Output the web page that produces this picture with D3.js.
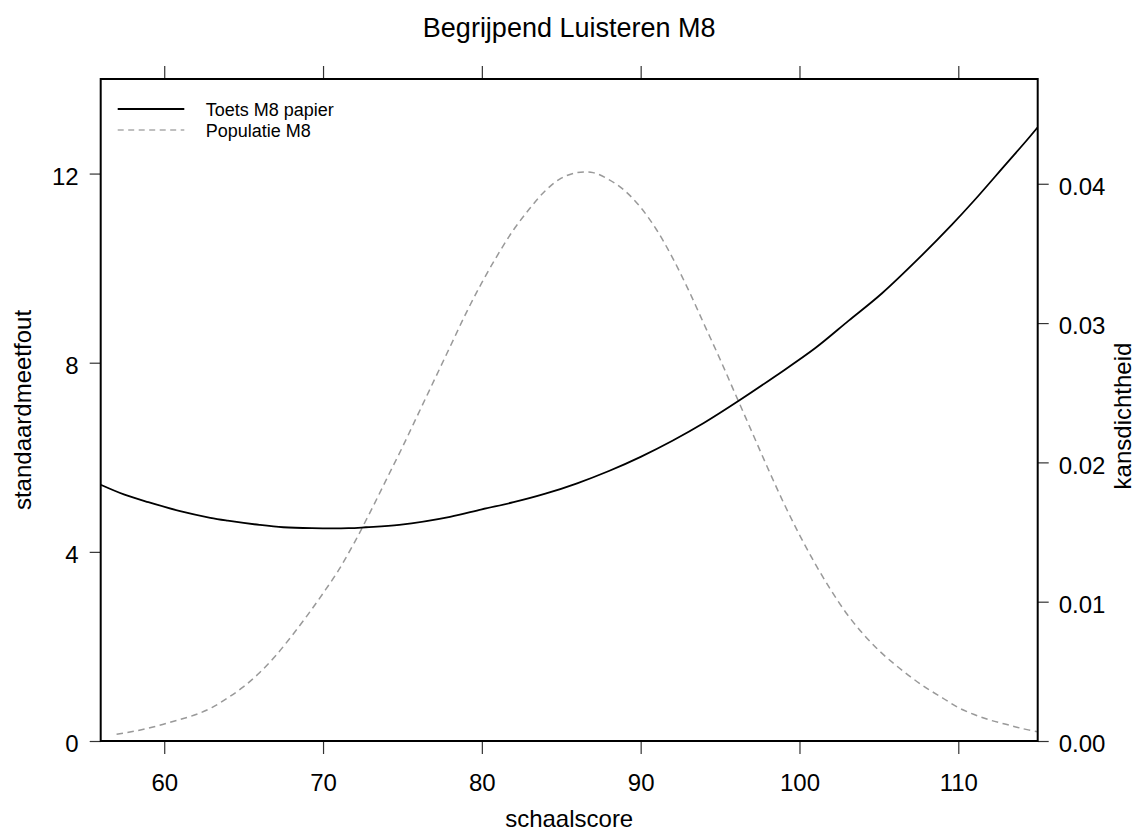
<!DOCTYPE html>
<html>
<head>
<meta charset="utf-8">
<script src="https://cdn.jsdelivr.net/npm/d3@7"></script>
<style>
  html, body { margin: 0; padding: 0; background: #fff; }
  svg { display: block; font-family: "Liberation Sans", Arial, sans-serif; }
</style>
</head>
<body>
<svg id="chart" width="1141" height="834"></svg>
<script>
// ---- data ----
const title = "Begrijpend Luisteren M8";
const xLabel = "schaalscore";
const yLeftLabel = "standaardmeetfout";
const yRightLabel = "kansdichtheid";
const seriesNames = ["Toets M8 papier", "Populatie M8"];

const xTicks = [60, 70, 80, 90, 100, 110];
const yLeftTicks = [0, 4, 8, 12];
const yRightTicks = [0, 0.01, 0.02, 0.03, 0.04];

// standard error of measurement (left axis)
const seX = [56, 57.5, 59, 61, 62.9, 64, 66, 67.5, 69.3, 71.6, 72.7, 74.8, 78, 80, 82, 84, 86, 88, 90, 92, 94, 96.2, 98.5, 101, 103.1, 105.2, 107.7, 109.6, 111, 113, 114.3, 115];
const seY = [5.42, 5.21, 5.05, 4.86, 4.72, 4.66, 4.57, 4.52, 4.50, 4.50, 4.52, 4.57, 4.74, 4.90, 5.05, 5.23, 5.45, 5.71, 6.01, 6.35, 6.73, 7.20, 7.72, 8.31, 8.89, 9.47, 10.27, 10.92, 11.43, 12.20, 12.70, 12.98];

// population density (right axis)
const popX = [57, 58, 59, 60, 61, 62, 63, 64, 65, 66, 67, 68, 69, 70, 71, 72, 73, 74, 75, 76, 77, 78, 79, 80, 81, 82, 83, 84, 85, 86, 87, 88, 89, 90, 91, 92, 93, 94, 95, 96, 97, 98, 99, 100, 101, 102, 103, 104, 105, 106, 107, 108, 109, 110, 111, 112, 113, 114, 115];
const popY = [0.00048, 0.00068, 0.00092, 0.00122, 0.00155, 0.0019, 0.0024, 0.0031, 0.0039, 0.0049, 0.0061, 0.0075, 0.0090, 0.0106, 0.0123, 0.0143, 0.0165, 0.0188, 0.0211, 0.0235, 0.0259, 0.0283, 0.0307, 0.0329, 0.0349, 0.0367, 0.0382, 0.0395, 0.0404, 0.0408, 0.0408, 0.0403, 0.0395, 0.0383, 0.0367, 0.0347, 0.0324, 0.0299, 0.0274, 0.0248, 0.0222, 0.0196, 0.0171, 0.0148, 0.0127, 0.0108, 0.0091, 0.0077, 0.0065, 0.0055, 0.0046, 0.0038, 0.0031, 0.0024, 0.0019, 0.0015, 0.0012, 0.0009, 0.00066];

// ---- layout ----
const L = 100.7, R = 1037.7, T = 79, B = 741;
const svg = d3.select("#chart");

const x = d3.scaleLinear().domain([56, 115]).range([L, R]);
const yL = d3.scaleLinear().domain([0, 14]).range([B, T]);
const yR = d3.scaleLinear().domain([0, 0.04752]).range([B, T]);

const FS = 24;

function styleAxis(g) {
  g.select(".domain").remove();
  g.selectAll(".tick line").attr("stroke", "#333").attr("stroke-width", 1.2);
  g.selectAll(".tick text").attr("font-size", FS).attr("fill", "#000")
    .attr("font-family", "'Liberation Sans', Arial, sans-serif");
}

// bottom
svg.append("g").attr("transform", `translate(0,${B})`)
  .call(d3.axisBottom(x).tickValues(xTicks).tickFormat(d3.format("d")).tickSize(13).tickPadding(20))
  .call(styleAxis);
// top (ticks only)
svg.append("g").attr("transform", `translate(0,${T})`)
  .call(d3.axisTop(x).tickValues(xTicks).tickFormat("").tickSize(13))
  .call(styleAxis);
// left
svg.append("g").attr("transform", `translate(${L},0)`)
  .call(d3.axisLeft(yL).tickValues(yLeftTicks).tickFormat(d3.format("d")).tickSize(11).tickPadding(11))
  .call(styleAxis)
  .call(g => g.selectAll(".tick text").attr("dy", "0.45em"));
// right
svg.append("g").attr("transform", `translate(${R},0)`)
  .call(d3.axisRight(yR).tickValues(yRightTicks).tickFormat(d3.format(".2f")).tickSize(11).tickPadding(10))
  .call(styleAxis)
  .call(g => g.selectAll(".tick text").attr("dy", "0.45em"));

// curves
svg.append("clipPath").attr("id", "plotclip")
  .append("rect").attr("x", L).attr("y", T).attr("width", R - L).attr("height", B - T);

const popLine = d3.line().x(d => x(d[0])).y(d => yR(d[1])).curve(d3.curveCatmullRom.alpha(0.5));
svg.append("path")
  .datum(popX.map((v, i) => [v, popY[i]]))
  .attr("d", popLine)
  .attr("fill", "none").attr("stroke", "#999").attr("stroke-width", 1.5)
  .attr("stroke-dasharray", "6.5,4.5")
  .attr("clip-path", "url(#plotclip)");

const seLine = d3.line().x(d => x(d[0])).y(d => yL(d[1])).curve(d3.curveCatmullRom.alpha(0.5));
svg.append("path")
  .datum(seX.map((v, i) => [v, seY[i]]))
  .attr("d", seLine)
  .attr("fill", "none").attr("stroke", "#000").attr("stroke-width", 1.8)
  .attr("clip-path", "url(#plotclip)");

// box
svg.append("rect").attr("x", L).attr("y", T).attr("width", R - L).attr("height", B - T)
  .attr("fill", "none").attr("stroke", "#000").attr("stroke-width", 2);

// legend
const leg = svg.append("g");
const legY = [109, 130];
leg.append("line").attr("x1", 117.7).attr("x2", 184.3).attr("y1", legY[0]).attr("y2", legY[0])
  .attr("stroke", "#000").attr("stroke-width", 1.8);
leg.append("line").attr("x1", 117.7).attr("x2", 184.3).attr("y1", legY[1]).attr("y2", legY[1])
  .attr("stroke", "#aaa").attr("stroke-width", 1.5).attr("stroke-dasharray", "6,4.5");
seriesNames.forEach((n, i) => {
  leg.append("text").attr("x", 205.7).attr("y", legY[i] + 6.5)
    .attr("font-size", 18).attr("fill", "#000").text(n);
});

// titles
svg.append("text").attr("x", (L + R) / 2).attr("y", 37).attr("text-anchor", "middle")
  .attr("font-size", 27).attr("fill", "#000").text(title);
svg.append("text").attr("x", (L + R) / 2).attr("y", 827).attr("text-anchor", "middle")
  .attr("font-size", FS).attr("fill", "#000").text(xLabel);
svg.append("text").attr("transform", `translate(31,${(T + B) / 2}) rotate(-90)`)
  .attr("text-anchor", "middle").attr("font-size", FS).attr("fill", "#000").text(yLeftLabel);
svg.append("text").attr("transform", `translate(1131,${(T + B) / 2 + 6}) rotate(-90)`)
  .attr("text-anchor", "middle").attr("font-size", FS).attr("fill", "#000").text(yRightLabel);
</script>
</body>
</html>
